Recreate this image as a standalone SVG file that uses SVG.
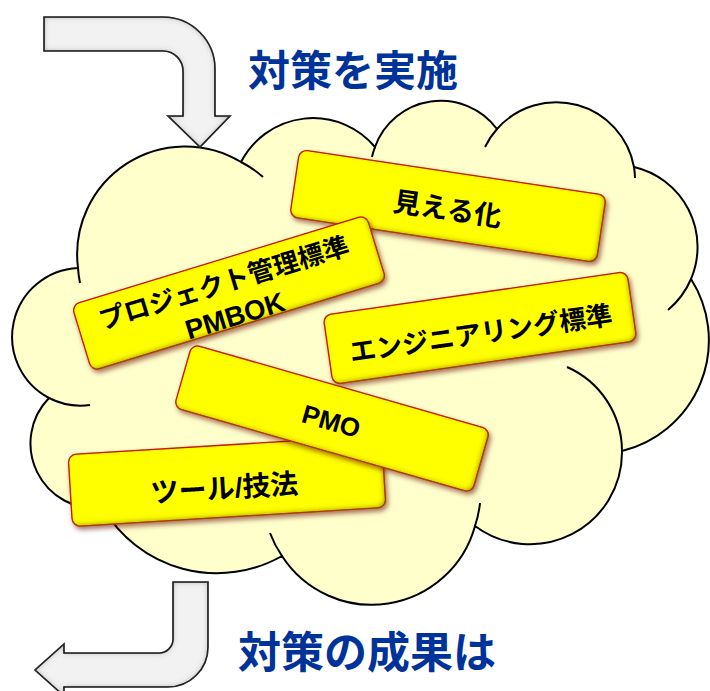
<svg xmlns="http://www.w3.org/2000/svg" width="710" height="691" viewBox="0 0 710 691">
<style>
.cloud{fill:#FFFFCC;stroke:#000;stroke-width:2}
.inner{fill:none;stroke:#000;stroke-width:2}
.arrow{fill:#F2F2F2;stroke:#000;stroke-width:1.6;stroke-linejoin:miter}
.box{fill:#FFFF00;stroke:#CC0000;stroke-width:1.3}
.lbl{font-family:"Liberation Sans","Noto Sans CJK JP",sans-serif;font-weight:bold;fill:#000;text-anchor:middle}
.title{font-family:"Liberation Sans","Noto Sans CJK JP",sans-serif;font-weight:bold;fill:#003399;text-anchor:middle}
</style>
<defs>
<filter id="ash" x="-5%" y="-5%" width="110%" height="110%">
<feGaussianBlur in="SourceAlpha" stdDeviation="3" result="b"/>
<feComposite in="SourceAlpha" in2="b" operator="out" result="edge"/>
<feFlood flood-color="#444" flood-opacity="0.75"/>
<feComposite in2="edge" operator="in" result="sh"/>
<feMerge><feMergeNode in="SourceGraphic"/><feMergeNode in="sh"/></feMerge>
</filter>
<filter id="bfx" x="-10%" y="-20%" width="125%" height="150%">
<feGaussianBlur in="SourceAlpha" stdDeviation="2.5" result="b"/>
<feOffset in="b" dx="-2.5" dy="-2.5" result="ob"/>
<feComposite in="SourceAlpha" in2="ob" operator="out" result="in1"/>
<feFlood flood-color="#7a5a00" flood-opacity="0.75" result="c1"/>
<feComposite in="c1" in2="in1" operator="in" result="ish"/>
<feOffset in="b" dx="2" dy="3" result="db"/>
<feFlood flood-color="#600000" flood-opacity="0.55" result="c2"/>
<feComposite in="c2" in2="db" operator="in" result="drop"/>
<feMerge><feMergeNode in="drop"/><feMergeNode in="SourceGraphic"/><feMergeNode in="ish"/></feMerge>
</filter>
</defs>

<g id="cloud">
<path class="cloud" d="M 241 162 A 81 81 0 0 1 375 147 A 70 70 0 0 1 497 129 A 79 79 0 0 1 634 167 A 82 82 0 0 1 691 279 A 114 114 0 0 1 622 451 A 92 92 0 0 1 475 526 A 107 107 0 0 1 282 556 A 132 132 0 0 1 103 508 A 65 65 0 0 1 49 398 A 69 69 0 0 1 78 268 A 108 108 0 0 1 241 162 Z"/>
<path class="inner" d="M 241 162 A 108 108 0 0 1 263 177 M 80 283 A 108 108 0 0 1 78 268 M 90 405 A 69 69 0 0 1 49 398 M 372 157 A 70 70 0 0 1 375 147 M 485 147 A 79 79 0 0 1 497 129 M 634 167 A 79 79 0 0 1 635 178 M 691 279 A 82 82 0 0 1 668 310 M 567 367 A 92 92 0 0 1 622 451 M 480 503 A 107 107 0 0 1 475 526 M 282 556 A 107 107 0 0 1 270 533"/>
</g>

<g id="connectors">
<path class="arrow" filter="url(#ash)" d="M 44 17 H 163 A 52 52 0 0 1 215 69 V 116 H 230 L 200 147 L 168 116 H 183 V 71 A 20 20 0 0 0 163 51 H 44 Z"/>
<path class="arrow" filter="url(#ash)" d="M 173 582 H 208 V 647 A 40 40 0 0 1 168 687 H 64 V 696 L 35 670 L 64 644 V 653 H 159 A 14 14 0 0 0 173 639 Z"/>
</g>

<g id="title-top"><text class="title" x="353" y="86" font-size="42">対策を実施</text></g>
<g id="title-bottom"><text class="title" x="367" y="668" font-size="43">対策の成果は</text></g>

<g id="n-mieruka">
<g filter="url(#bfx)"><rect class="box" x="-155" y="-34" width="310" height="68" rx="8" transform="translate(448 206) rotate(8.5)"/></g>
<text class="lbl" font-size="27.5" transform="translate(448 206) rotate(8.5)" x="0" y="13">見える化</text>
</g>

<g id="n-engineering">
<g filter="url(#bfx)"><rect class="box" x="-153.5" y="-35" width="307" height="70" rx="8" transform="translate(480 328) rotate(-8.2)"/></g>
<text class="lbl" font-size="26.5" transform="translate(480 328) rotate(-8.2)" x="0" y="15">エンジニアリング標準</text>
</g>

<g id="n-tools">
<g filter="url(#bfx)"><rect class="box" x="-157" y="-36" width="314" height="72" rx="8" transform="translate(227 481) rotate(-3.5)"/></g>
<text class="lbl" font-size="28" transform="translate(227 481) rotate(-3.5)" x="-3" y="17">ツール/技法</text>
</g>

<g id="n-pmo">
<g filter="url(#bfx)"><rect class="box" x="-155" y="-33" width="310" height="66" rx="8" transform="translate(332 418.5) rotate(16)"/></g>
<text class="lbl" font-size="26" transform="translate(332 418.5) rotate(16)" x="0" y="12">PMO</text>
</g>

<g id="n-pm-standard">
<g filter="url(#bfx)"><rect class="box" x="-154" y="-34.5" width="308" height="69" rx="8" transform="translate(229 293) rotate(-17)"/></g>
<text class="lbl" font-size="26" transform="translate(229 293) rotate(-17)" x="-2" y="-2">プロジェクト管理標準</text>
<text class="lbl" font-size="27.5" transform="translate(229 293) rotate(-17)" x="-1" y="33">PMBOK</text>
</g>
</svg>
